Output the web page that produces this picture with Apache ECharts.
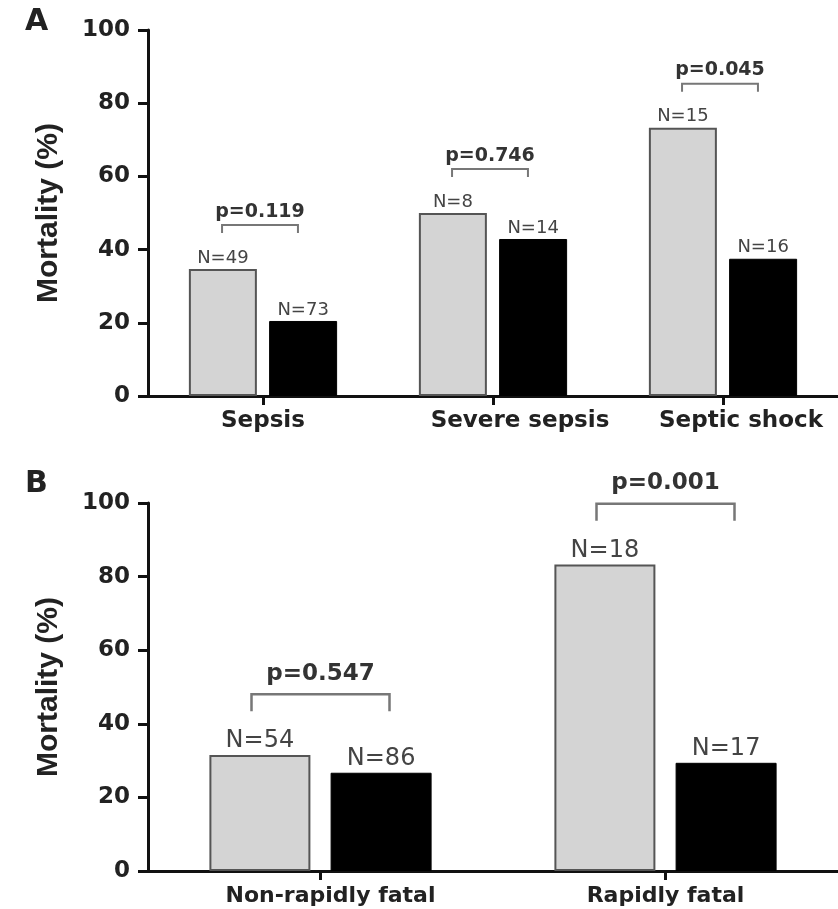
<!DOCTYPE html>
<html><head><meta charset="utf-8">
<script src="https://cdn.jsdelivr.net/npm/echarts@6/dist/echarts.min.js"></script>
<style>html,body{margin:0;padding:0;background:#fff}#c{width:838px;height:909px}</style>
</head><body><div id="c"></div>
<script>
// Panel A
const categoriesA = ['Sepsis', 'Severe sepsis', 'Septic shock'];
const mortalityGrayA = [34.7, 50.0, 73.3];
const mortalityBlackA = [20.5, 42.9, 37.5];
const nGrayA = [49, 8, 15];
const nBlackA = [73, 14, 16];
const pLabelsA = ['p=0.119', 'p=0.746', 'p=0.045'];
// Panel B
const categoriesB = ['Non-rapidly fatal', 'Rapidly fatal'];
const mortalityGrayB = [31.5, 83.3];
const mortalityBlackB = [26.7, 29.4];
const nGrayB = [54, 18];
const nBlackB = [86, 17];
const pLabelsB = ['p=0.547', 'p=0.001'];
// Axis
const yMin = 0, yMax = 100, yStep = 20;

const FONT = 'DejaVu Sans';
const chart = echarts.init(document.getElementById('c'), null, {renderer: 'canvas'});

function bracketRenderer(gray, black, labels, o) {
  return function (params, api) {
    const i = params.dataIndex;
    const level = Math.max(gray[i], black[i]) + o.offset;
    const c = api.coord([i, level]);
    const band = api.size([1, 0])[0];
    const hw = band * o.halfFrac;
    const x1 = c[0] - hw + o.shift, x2 = c[0] + hw + o.shift;
    const y = c[1];
    return {
      type: 'group',
      children: [
        {type: 'polyline', shape: {points: [[x1, y + o.tick], [x1, y], [x2, y], [x2, y + o.tick]]},
          style: {stroke: '#777', lineWidth: o.lw, fill: null}},
        {type: 'text', style: {text: labels[i], x: (x1 + x2) / 2, y: y - o.textGap,
          align: 'center', verticalAlign: 'bottom', fontFamily: FONT, fontWeight: 'bold',
          fontSize: o.fontSize, fill: '#333'}}
      ]
    };
  };
}

function yAxisCfg(gridIndex) {
  return {
    type: 'value', gridIndex, min: yMin, max: yMax, interval: yStep,
    name: 'Mortality (%)', nameLocation: 'middle', nameGap: 84,
    nameTextStyle: {fontFamily: 'Liberation Sans', fontWeight: 'bold', fontSize: 30, color: '#222'},
    axisLine: {show: true, lineStyle: {color: '#111', width: 3}},
    axisTick: {show: true, length: 10, lineStyle: {color: '#111', width: 3}},
    axisLabel: {fontFamily: FONT, fontWeight: 'bold', fontSize: 23, color: '#222', margin: 18},
    splitLine: {show: false}
  };
}

function richLabels(cats, pads, size) {
  const rich = {};
  cats.forEach((c, i) => {
    rich['c' + i] = {fontFamily: FONT, fontWeight: 'bold', fontSize: size, color: '#222',
      padding: [0, 0, 0, pads[i]]};
  });
  return {
    interval: 0, hideOverlap: false,
    fontFamily: FONT, fontWeight: 'bold', fontSize: size, color: '#222', margin: 14,
    formatter: (v, i) => '{c' + i + '|' + v + '}',
    rich
  };
}

function xAxisCfg(gridIndex, cats, pads, size) {
  return {
    type: 'category', gridIndex, data: cats,
    axisLine: {show: true, lineStyle: {color: '#111', width: 3}},
    axisTick: {show: true, alignWithLabel: true, interval: 0, length: 9, lineStyle: {color: '#111', width: 3}},
    axisLabel: richLabels(cats, pads, size)
  };
}

function barSeries(xi, values, ns, isGray, barW, gap, labelSize) {
  return {
    type: 'bar', xAxisIndex: xi, yAxisIndex: xi, data: values,
    barWidth: barW, barGap: gap,
    itemStyle: isGray ? {color: '#d4d4d4', borderColor: '#555', borderWidth: 2}
                      : {color: '#000', borderColor: '#000', borderWidth: 1},
    label: {show: true, position: 'top', distance: 2,
      formatter: p => 'N=' + ns[p.dataIndex],
      fontFamily: FONT, fontSize: labelSize, color: '#444'},
    silent: true, animation: false
  };
}

const option = {
  animation: false,
  backgroundColor: '#fff',
  title: [
    {text: 'A', left: 20, top: 2, textStyle: {fontFamily: FONT, fontWeight: 'bold', fontSize: 30, color: '#222'}},
    {text: 'B', left: 20, top: 464, textStyle: {fontFamily: FONT, fontWeight: 'bold', fontSize: 30, color: '#222'}}
  ],
  grid: [
    {left: 148, right: 0, top: 30, height: 366},
    {left: 148, right: 0, top: 503, height: 368}
  ],
  xAxis: [
    xAxisCfg(0, categoriesA, [0, 54, 36], 23),
    xAxisCfg(1, categoriesB, [20, 0], 22)
  ],
  yAxis: [yAxisCfg(0), yAxisCfg(1)],
  series: [
    barSeries(0, mortalityGrayA, nGrayA, true, 68, '18%', 18),
    barSeries(0, mortalityBlackA, nBlackA, false, 68, '18%', 18),
    barSeries(1, mortalityGrayB, nGrayB, true, 101, '20%', 24),
    barSeries(1, mortalityBlackB, nBlackB, false, 101, '20%', 24),
    {type: 'custom', xAxisIndex: 0, yAxisIndex: 0, z: 10, clip: false,
      data: categoriesA.map((c, i) => [i, Math.max(mortalityGrayA[i], mortalityBlackA[i])]),
      renderItem: bracketRenderer(mortalityGrayA, mortalityBlackA, pLabelsA,
        {offset: 12, halfFrac: 0.165, shift: -3, tick: 8, lw: 2, textGap: 4, fontSize: 19})},
    {type: 'custom', xAxisIndex: 1, yAxisIndex: 1, z: 10, clip: false,
      data: categoriesB.map((c, i) => [i, Math.max(mortalityGrayB[i], mortalityBlackB[i])]),
      renderItem: bracketRenderer(mortalityGrayB, mortalityBlackB, pLabelsB,
        {offset: 16.5, halfFrac: 0.2, shift: 0, tick: 17, lw: 2.5, textGap: 9, fontSize: 23})}
  ]
};
chart.setOption(option);
</script></body></html>
